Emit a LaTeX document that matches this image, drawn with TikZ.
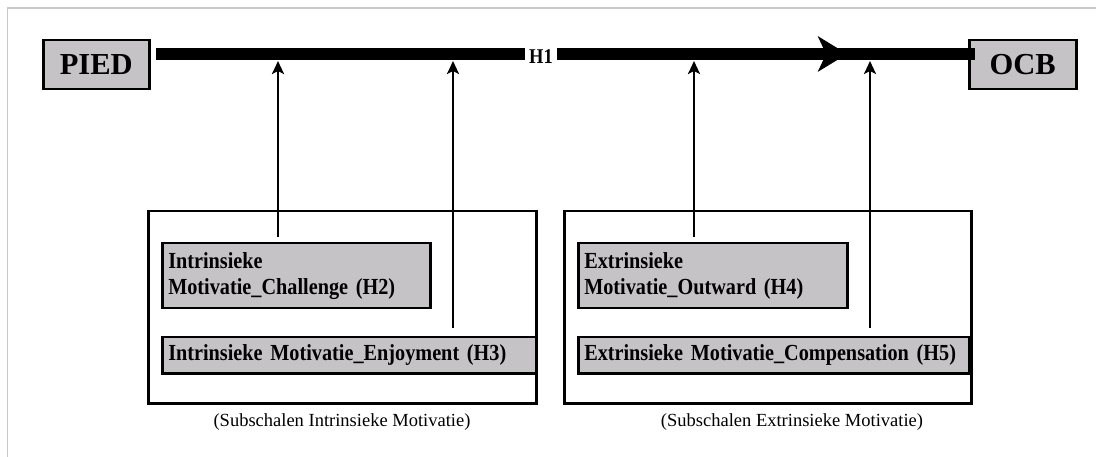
\documentclass[tikz,border=0pt]{standalone}
\usepackage{fontspec}
\setmainfont{Liberation Serif}
\newfontfamily\condserif[FakeStretch=0.88]{Liberation Serif}
\usetikzlibrary{arrows.meta,decorations.markings}
\definecolor{boxgray}{RGB}{198,195,198}
\definecolor{framegray}{RGB}{200,200,200}
\begin{document}
\begin{tikzpicture}[x=1pt,y=-1pt,
  keybox/.style={draw=black, line width=2.5pt, fill=boxgray, inner sep=0pt,
    anchor=north west, font=\bfseries\fontsize{30.5}{36}\selectfont},
  subbox/.style={draw=black, line width=2.5pt, fill=boxgray, inner ysep=0pt, inner xsep=6pt,
    anchor=north west, align=left, font=\condserif\bfseries\fontsize{23}{26}\selectfont},
  groupbox/.style={draw=black, line width=2.5pt, inner sep=0pt, anchor=north west},
  caption/.style={font=\fontsize{18.5}{21}\selectfont, inner sep=0pt},
  mainline/.style={line width=12pt},
  varrow/.style={line width=2.5pt, -{Stealth[length=13pt,width=12pt,inset=3pt]}}
]
\useasboundingbox (0,0) rectangle (1096,457);
\draw[framegray, line width=1.5pt] (7.5,457) -- (7.5,8) -- (1096,8);

% group boxes
\node[groupbox, minimum width=388pt, minimum height=192pt] (gL) at (147,210) {};
\node[groupbox, minimum width=407pt, minimum height=192pt] (gR) at (563,210) {};

% sub boxes
\node[subbox, minimum height=65pt, text width=256pt] (H2) at (161,242)
  {Intrinsieke\\Motivatie\_Challenge (H2)};
\node[subbox, minimum height=36pt, text width=362pt] (H3) at (161,336)
  {Intrinsieke Motivatie\_Enjoyment (H3)};
\node[subbox, minimum height=65pt, text width=257pt] (H4) at (577,242)
  {Extrinsieke\\Motivatie\_Outward (H4)};
\node[subbox, minimum height=36pt, text width=379pt] (H5) at (577,336)
  {Extrinsieke Motivatie\_Compensation (H5)};

\node[caption] (cL) at (342,422) {(Subschalen Intrinsieke Motivatie)};
\node[caption] (cR) at (792,422) {(Subschalen Extrinsieke Motivatie)};

% key boxes
\node[keybox, minimum width=106pt, minimum height=49pt] (PIED) at (42,39) {PIED};
\node[keybox, minimum width=107pt, minimum height=49pt] (OCB) at (968,39) {OCB};

% H1 line
\node[font=\condserif\bfseries\fontsize{21}{24}\selectfont, inner xsep=4pt, inner ysep=0pt] (H1) at (541,57) {H1};
\coordinate (lineL) at (156,54);
\coordinate (lineR) at (975,54);
\draw[mainline] (lineL) -- (lineL -| H1.west);
\draw[mainline, postaction={decorate, decoration={markings,
    mark=at position 0.694 with {\arrow{Stealth[length=29pt,width=35pt,inset=8pt]}}}}]
  (lineR -| H1.east) -- (lineR);

% vertical arrows
\coordinate (top) at (0,61);
\coordinate (s1) at (278,237);
\coordinate (s2) at (453,328);
\coordinate (s3) at (694,237);
\coordinate (s4) at (870,328);
\draw[varrow] (s1) -- (s1 |- top);
\draw[varrow] (s2) -- (s2 |- top);
\draw[varrow] (s3) -- (s3 |- top);
\draw[varrow] (s4) -- (s4 |- top);
\end{tikzpicture}
\end{document}
